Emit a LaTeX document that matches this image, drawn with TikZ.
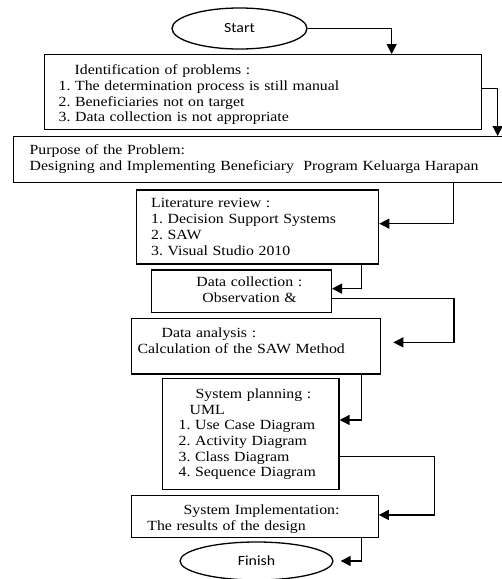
\documentclass[tikz,border=0pt]{standalone}
\usepackage{fontspec}
\setmainfont{Liberation Serif}[FakeStretch=1.13]
\newfontfamily\ovalfont{Carlito}[FakeStretch=1.13]
\usetikzlibrary{shapes.geometric,arrows.meta}
\frenchspacing

\begin{document}
\begin{tikzpicture}[
    x = 1pt, y = -1pt, % pixel grid, y downwards
    > = {Triangle[length=10pt, width=10pt]}, % arrow head style
    line width = 1.3pt, % line style
    box/.style = {draw, rectangle, anchor=north west, align=left,
        inner xsep=6pt, inner ysep=0pt, font=\fontsize{14}{15.7}\selectfont},
    oval/.style = {draw, ellipse, inner sep=0pt,
        font=\ovalfont\fontsize{14}{16}\selectfont}
]
\useasboundingbox (0,0) rectangle (502,579);

% Nodes
\node[oval, minimum width=135pt, minimum height=41pt] (start) at (239.5,28.5) {Start};
\node[box, text width=425pt, text height=20pt, text depth=55pt] (ident) at (44,54)
    {\hspace*{24pt}Identification of problems :\\
     \hspace*{8pt}1. The determination process is still manual\\
     \hspace*{8pt}2. Beneficiaries not on target\\
     \hspace*{8pt}3. Data collection is not appropriate};
\node[box, text width=485pt, text height=18pt, text depth=28pt] (purpose) at (13,136)
    {\hspace*{10pt}Purpose of the Problem:\\
     \hspace*{10pt}Designing and Implementing Beneficiary~ Program Keluarga Harapan};
\node[box, text width=230.5pt, text height=18pt, text depth=56pt] (lit) at (135.5,189.3)
    {\hspace*{9pt}Literature review :\\
     \hspace*{9pt}1. Decision Support Systems\\
     \hspace*{9pt}2. SAW\\
     \hspace*{9pt}3. Visual Studio 2010};
\node[box, text width=168pt, text height=16.7pt, text depth=25.7pt] (collect) at (150.7,269.3)
    {\hspace*{39pt}Data collection :\\
     \hspace*{45pt}Observation \&};
\node[box, text width=237pt, text height=19pt, text depth=36.6pt] (analysis) at (131,317.7)
    {\hspace*{24pt}Data analysis :\\
     Calculation of the SAW Method};
\node[box, text width=164.3pt, text height=20.2pt, text depth=91pt] (plan) at (162,377.5)
    {\hspace*{27pt}System planning :\\
     \hspace*{21pt}UML\\
     \hspace*{10pt}1. Use Case Diagram\\
     \hspace*{10pt}2. Activity Diagram\\
     \hspace*{10pt}3. Class Diagram\\
     \hspace*{10pt}4. Sequence Diagram};
\node[box, text width=234.5pt, text height=19.3pt, text depth=22.7pt] (impl) at (131,494.7)
    {\hspace*{46pt}System Implementation:\\
     \hspace*{9.7pt}The results of the design};
\node[oval, minimum width=153pt, minimum height=38pt] (finish) at (256.5,561) {Finish};

\coordinate (analysisin) at ([xshift=12pt, yshift=3.8pt]analysis.east);
\coordinate (finishin) at ([xshift=7pt]finish.east);

% Edges
\draw[->] (start.east) -| ([xshift=128.5pt]ident.north);
\draw[->] ([yshift=3.5pt]ident.east) -| ([xshift=235.5pt]purpose.north);
\draw[->] ([xshift=191.5pt]purpose.south) |- ([yshift=3.3pt]lit.east);
\draw[->] ([xshift=104.25pt]lit.south) |- ([yshift=2.5pt]collect.east);
\draw[->] ([yshift=-7.2pt]collect.east) -- ++(122,0) |- (analysisin);
\draw[->] ([xshift=105.5pt]analysis.south) |- ([yshift=13.8pt]plan.east);
\draw[->] ([yshift=-22.6pt]plan.east) -- ++(95,0) |- ([yshift=1.4pt]impl.east);
\draw[->] ([xshift=106.75pt]impl.south) |- (finishin);

\end{tikzpicture}
\end{document}
